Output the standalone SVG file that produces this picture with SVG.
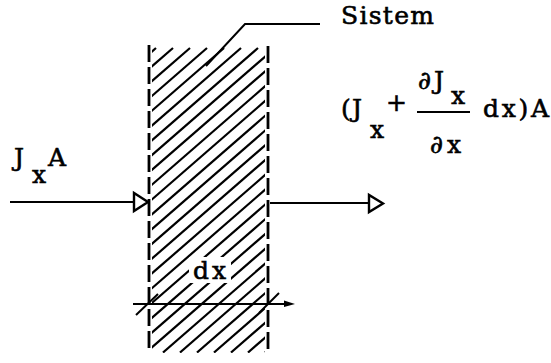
<svg xmlns="http://www.w3.org/2000/svg" width="551" height="363" viewBox="0 0 551 363">
<style>
.t{font-family:"DejaVu Serif","Liberation Serif",serif;font-size:25px;fill:#000;stroke:#000;stroke-width:0.6}
.ln{stroke:#000;stroke-width:2;fill:none}
.h{stroke:#000;stroke-width:2.2;fill:none}
.dash{stroke:#000;stroke-width:2.8;fill:none;stroke-dasharray:17 5}
.head{stroke:#000;stroke-width:2.4;fill:#fff;stroke-linejoin:miter}
</style>
<defs>
<clipPath id="sysclip"><rect x="152" y="47" width="113" height="306"/></clipPath>
</defs>
<rect width="551" height="363" fill="#fff"/>

<g id="system">
<g clip-path="url(#sysclip)" class="h">
<line x1="156" y1="48" x2="-194" y2="352.5"/>
<line x1="173" y1="48" x2="-177" y2="352.5"/>
<line x1="190" y1="48" x2="-160" y2="352.5"/>
<line x1="207" y1="48" x2="-143" y2="352.5"/>
<line x1="224" y1="48" x2="-126" y2="352.5"/>
<line x1="241" y1="48" x2="-109" y2="352.5"/>
<line x1="258" y1="48" x2="-92" y2="352.5"/>
<line x1="275" y1="48" x2="-75" y2="352.5"/>
<line x1="292" y1="48" x2="-58" y2="352.5"/>
<line x1="309" y1="48" x2="-41" y2="352.5"/>
<line x1="326" y1="48" x2="-24" y2="352.5"/>
<line x1="343" y1="48" x2="-7" y2="352.5"/>
<line x1="360" y1="48" x2="10" y2="352.5"/>
<line x1="377" y1="48" x2="27" y2="352.5"/>
<line x1="394" y1="48" x2="44" y2="352.5"/>
<line x1="411" y1="48" x2="61" y2="352.5"/>
<line x1="428" y1="48" x2="78" y2="352.5"/>
<line x1="445" y1="48" x2="95" y2="352.5"/>
<line x1="462" y1="48" x2="112" y2="352.5"/>
<line x1="479" y1="48" x2="129" y2="352.5"/>
<line x1="496" y1="48" x2="146" y2="352.5"/>
<line x1="513" y1="48" x2="163" y2="352.5"/>
<line x1="530" y1="48" x2="180" y2="352.5"/>
<line x1="547" y1="48" x2="197" y2="352.5"/>
<line x1="564" y1="48" x2="214" y2="352.5"/>
<line x1="581" y1="48" x2="231" y2="352.5"/>
<line x1="598" y1="48" x2="248" y2="352.5"/>
<line x1="615" y1="48" x2="265" y2="352.5"/>
</g>
<rect x="189" y="257" width="42" height="26" fill="#fff"/>
<line class="dash" x1="149" y1="45" x2="149" y2="353"/>
<line class="dash" x1="268" y1="46" x2="268" y2="353"/>
</g>

<g id="label-sistem">
<text class="t" x="341" y="24" textLength="93" lengthAdjust="spacing">Sistem</text>
</g>

<g id="label-in">
<text class="t" x="14" y="166">J</text>
<text class="t" x="32" y="183">x</text>
<text class="t" x="48" y="166">A</text>
</g>

<g id="label-out">
<text class="t" x="341" y="117">(</text>
<text class="t" x="352" y="117">J</text>
<text class="t" x="370" y="138">x</text>
<text class="t" x="386" y="111">+</text>
<text class="t" x="418" y="89">∂</text>
<text class="t" x="434" y="89">J</text>
<text class="t" x="451" y="104">x</text>
<line x1="417" y1="112" x2="470" y2="112" stroke="#000" stroke-width="1.8"/>
<text class="t" x="430" y="153" textLength="31" lengthAdjust="spacing">∂x</text>
<text class="t" x="483" y="117" textLength="66" lengthAdjust="spacing">dx)A</text>
</g>

<g id="label-dx">
<text class="t" x="193" y="279" textLength="33" lengthAdjust="spacing">dx</text>
</g>

<g id="connectors">
<polyline class="ln" points="320,24 245,24 206,66"/>
<line class="ln" x1="10" y1="202" x2="134" y2="202"/>
<polygon class="head" points="134,193 134,211 148,202"/>
<line class="ln" x1="270" y1="203" x2="369" y2="203"/>
<polygon class="head" points="369,195 369,212 383,203.5"/>
<line class="ln" x1="133" y1="304" x2="288" y2="304"/>
<polygon points="284,300.5 295,304 284,307" fill="#000"/>
<line class="ln" x1="136" y1="315" x2="158" y2="294"/>
<line class="ln" x1="259" y1="313" x2="279" y2="293"/>
</g>
</svg>
